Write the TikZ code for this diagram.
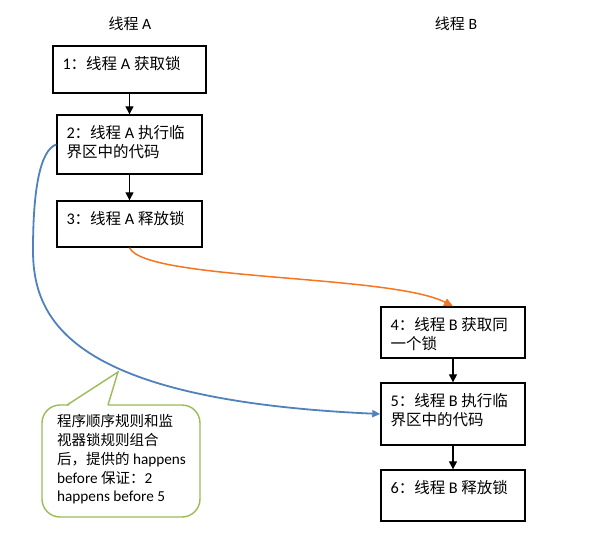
\documentclass[tikz,border=0pt]{standalone}
\usepackage{fontspec}
\setmainfont{Carlito}[Scale=1.05]
\newfontfamily\cjk{Noto Sans CJK SC}
\newcommand\zh[1]{{\cjk #1}}
\usetikzlibrary{arrows.meta}
\definecolor{lineblue}{RGB}{79,129,189}
\definecolor{lineorange}{RGB}{245,118,30}
\definecolor{callgreen}{RGB}{155,187,89}
\begin{document}
\begin{tikzpicture}[x=1pt,y=-1pt,
  stepbox/.style={draw=black, line width=1.4pt, inner sep=0pt, fill=white},
  steptxt/.style={anchor=north west, inner sep=0pt, align=left, font=\fontsize{15.5}{19.5}\selectfont},
  head/.style={inner sep=0pt, font=\fontsize{15}{18}\selectfont},
  flow/.style={draw=black, line width=1.3pt, -{Triangle[length=8pt,width=8pt]}},
  orangeflow/.style={draw=lineorange, line width=1.5pt, -{Triangle[length=9pt,width=8pt]}},
  blueflow/.style={draw=lineblue, line width=1.8pt, -{Triangle[length=8pt,width=7pt]}},
  callout/.style={draw=callgreen, line width=1.4pt},
  calltxt/.style={anchor=north west, inner sep=0pt, align=left, font=\fontsize{14.5}{18.7}\selectfont}
]
\useasboundingbox (0,0) rectangle (589,541);

% headers
\node[head] (ha) at (130,24) {\zh{线程} A};
\node[head] (hb) at (456,24) {\zh{线程} B};

% boxes
\node[stepbox, minimum width=153pt, minimum height=47pt] (b1) at (129.5,69.5) {};
\node[stepbox, minimum width=145pt, minimum height=59pt] (b2) at (129.5,144.5) {};
\node[stepbox, minimum width=145pt, minimum height=46pt] (b3) at (129.5,224) {};
\node[stepbox, minimum width=144pt, minimum height=51pt] (b4) at (453,332.5) {};
\node[stepbox, minimum width=144pt, minimum height=62pt] (b5) at (453,414) {};
\node[stepbox, minimum width=144pt, minimum height=51pt] (b6) at (453,495.5) {};

% box texts
\node[steptxt] (t1) at ([shift={(10,10.5)}]b1.north west) {1\zh{：线程} A \zh{获取锁}};
\node[steptxt] (t2) at ([shift={(10,10.5)}]b2.north west) {2\zh{：线程} A \zh{执行临}\\\zh{界区中的代码}};
\node[steptxt] (t3) at ([shift={(10,10.5)}]b3.north west) {3\zh{：线程} A \zh{释放锁}};
\node[steptxt] (t4) at ([shift={(10,10.5)}]b4.north west) {4\zh{：线程} B \zh{获取同}\\\zh{一个锁}};
\node[steptxt] (t5) at ([shift={(10,10.5)}]b5.north west) {5\zh{：线程} B \zh{执行临}\\\zh{界区中的代码}};
\node[steptxt] (t6) at ([shift={(10,10.5)}]b6.north west) {6\zh{：线程} B \zh{释放锁}};

% vertical arrows
\draw[flow] (b1) -- (b2);
\draw[flow] (b2) -- (b3);
\draw[flow] (b4) -- (b5);
\draw[flow] (b5) -- (b6);

% orange curve
\draw[orangeflow] (b3.south) .. controls +(15,33) and +(-62,-32) .. (b4.north);

% blue curve
\coordinate (bm) at (33,250);
\draw[blueflow] (b2.west) .. controls (40,150) and (33,190) .. (bm)
  .. controls (33,320) and (70,400) .. (b5.west);

% callout
\draw[callout, fill=white, rounded corners=18pt] (42,405) rectangle (200,517);
\fill[white] (67.5,406.4) -- (118,372) -- (107.5,406.4) -- cycle;
\draw[callout, line join=miter] (67,405) -- (118,372) -- (108,405);
\node[calltxt] (ct) at (57,414.5) {\zh{程序顺序规则和监}\\\zh{视器锁规则组合}\\\zh{后，提供的} happens\\before \zh{保证：}2\\happens before 5};
\end{tikzpicture}
\end{document}
